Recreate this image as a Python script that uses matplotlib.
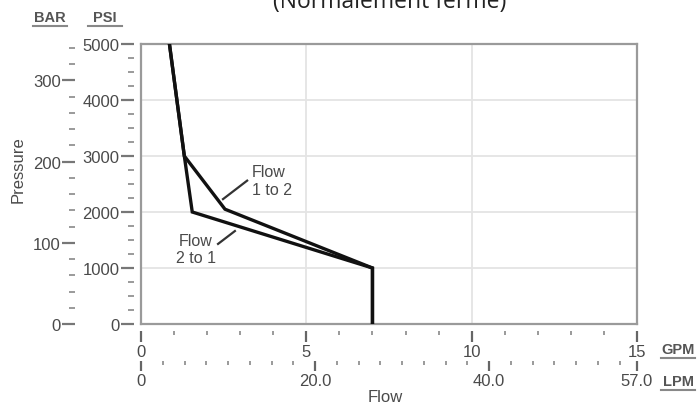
import numpy as np
import matplotlib.pyplot as plt

# Dane (GPM, PSI)
flow_1_to_2_gpm = [0.86, 1.31, 2.54, 7.0, 7.0]
flow_1_to_2_psi = [5000, 3000, 2050, 1000, 0]
flow_2_to_1_gpm = [0.86, 1.31, 1.55, 7.0, 7.0]
flow_2_to_1_psi = [5000, 3000, 2000, 1000, 0]

psi_major = [0, 1000, 2000, 3000, 4000, 5000]
psi_minor = np.arange(0, 5001, 250)
bar_major = [0, 100, 200, 300]
bar_minor = np.arange(0, 341, 20)
gpm_major = [0, 5, 10, 15]
gpm_minor = np.arange(0, 16, 1)
lpm_major = [0, 20.0, 40.0, 57.0]
lpm_labels = ['0', '20.0', '40.0', '57.0']
lpm_minor = np.arange(0, 57, 2.5)

# Etykiety krzywych i linie odniesienia (GPM, PSI)
label_texts = ['Flow\n1 to 2', 'Flow\n2 to 1']
label_pos = [(3.36, 2560), (1.66, 1340)]
label_ha = ['left', 'center']
leader_x = [[2.48, 3.21], [2.33, 2.84]]
leader_y = [[2230, 2560], [1430, 1660]]

PSI_PER_BAR = 14.5038
LPM_PER_GPM = 57.0 / 15.0

gray_txt = '#4a4a4a'
spine_c = '#9a9a9a'
plt.rcParams['font.family'] = ['Liberation Sans', 'DejaVu Sans']
plt.rcParams['font.size'] = 12

W, H = 697, 410
fig = plt.figure(figsize=(W / 100, H / 100), dpi=100)
L, R, T, B = 141, 637, 45, 325
ax = fig.add_axes([L / W, 1 - B / H, (R - L) / W, (B - T) / H])
ax.set_xlim(0, 15)
ax.set_ylim(0, 5000)

# Siatka
ax.set_xticks([5, 10])
ax.set_yticks([1000, 2000, 3000, 4000])
ax.grid(True, color='#e4e4e4', lw=1.3)
ax.tick_params(left=False, bottom=False, labelleft=False, labelbottom=False)
for s in ax.spines.values():
    s.set_color(spine_c)
    s.set_linewidth(1.6)

# Krzywe
ax.plot(flow_1_to_2_gpm, flow_1_to_2_psi, color='#111111', lw=2.4,
        solid_joinstyle='miter', zorder=3)
ax.plot(flow_2_to_1_gpm, flow_2_to_1_psi, color='#111111', lw=2.4,
        solid_joinstyle='miter', zorder=3)

for txt, (x, y), ha, lx, ly in zip(label_texts, label_pos, label_ha, leader_x, leader_y):
    ax.text(x, y, txt, ha=ha, va='center', color=gray_txt, fontsize=11.5,
            linespacing=1.2)
    ax.plot(lx, ly, color='#333333', lw=1.6)

px = 0.72  # piksel w punktach

# Os PSI
psi_ax = ax.secondary_yaxis(-7 / (R - L))
psi_ax.set_yticks(psi_major)
psi_ax.set_yticks(psi_minor, minor=True)
psi_ax.tick_params(which='major', length=13 * px, width=1.6, color='#777777',
                   labelcolor=gray_txt, pad=1, labelsize=12)
psi_ax.tick_params(which='minor', length=6 * px, width=1.4, color='#9a9a9a')
for s in psi_ax.spines.values():
    s.set_visible(False)

# Os BAR
bar_ax = ax.secondary_yaxis(-66 / (R - L),
                            functions=(lambda p: p / PSI_PER_BAR,
                                       lambda b: b * PSI_PER_BAR))
bar_ax.set_yticks(bar_major)
bar_ax.set_yticks(bar_minor, minor=True)
bar_ax.tick_params(which='major', length=13 * px, width=1.6, color='#777777',
                   labelcolor=gray_txt, pad=1, labelsize=12)
bar_ax.tick_params(which='minor', length=6 * px, width=1.4, color='#9a9a9a')
for s in bar_ax.spines.values():
    s.set_visible(False)

# Os GPM
gpm_ax = ax.secondary_xaxis(-(332 - B) / (B - T))
gpm_ax.set_xticks(gpm_major)
gpm_ax.set_xticks(gpm_minor, minor=True)
gpm_ax.tick_params(which='major', length=11 * px, width=1.6, color='#666666',
                   labelcolor=gray_txt, pad=1.5, labelsize=12)
gpm_ax.tick_params(which='minor', length=4 * px, width=1.4, color='#9a9a9a')
for s in gpm_ax.spines.values():
    s.set_visible(False)

# Os LPM
lpm_ax = ax.secondary_xaxis(-(362 - B) / (B - T),
                            functions=(lambda g: g * LPM_PER_GPM,
                                       lambda l: l / LPM_PER_GPM))
lpm_ax.set_xticks(lpm_major, lpm_labels)
lpm_ax.set_xticks(lpm_minor, minor=True)
lpm_ax.tick_params(which='major', length=10 * px, width=1.6, color='#666666',
                   labelcolor=gray_txt, pad=1.5, labelsize=12)
lpm_ax.tick_params(which='minor', length=4 * px, width=1.4, color='#9a9a9a')
for s in lpm_ax.spines.values():
    s.set_visible(False)

# Opisy osi
fig.text(385 / W, 1 - 398 / H, 'Flow', ha='center', va='center', color=gray_txt, fontsize=12)
fig.text(18 / W, 1 - 170 / H, 'Pressure', ha='center', va='center', rotation=90,
         color=gray_txt, fontsize=12)
for name, x, y in [('BAR', 50, 18), ('PSI', 105, 18), ('GPM', 678, 350), ('LPM', 678, 382)]:
    fig.text(x / W, 1 - y / H, name, ha='center', va='center', color='#555555',
             fontsize=10.5, fontweight='bold')
    fig.lines.append(plt.Line2D([(x - 17) / W, (x + 17) / W],
                                [1 - (y + 9) / H, 1 - (y + 9) / H],
                                transform=fig.transFigure, color='#888888', lw=1.5))

# Tytul (obciety u gory, jak w oryginale)
fig.text(390 / W, 1 - 8.5 / H, '(Normalement fermé)', ha='center', va='baseline',
         color='#222222', fontsize=16.5, family=['Open Sans', 'DejaVu Sans'])

fig.savefig('out.png', dpi=100)
